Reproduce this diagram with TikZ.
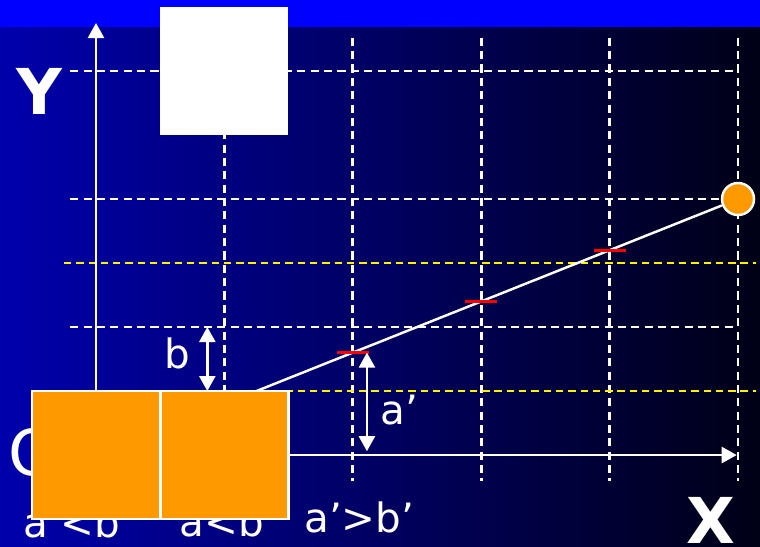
\documentclass[tikz,border=0pt]{standalone}
\usepackage{fontspec}
\setmainfont{DejaVu Sans}
\usetikzlibrary{arrows.meta, positioning}

\definecolor{bgleft}{RGB}{0,0,172}
\definecolor{bgright}{RGB}{0,0,22}
\definecolor{topbar}{RGB}{0,0,255}
\definecolor{lamp}{RGB}{255,153,0}

\begin{document}
\begin{tikzpicture}[x=1.284cm, y=1.28cm, >={Triangle[length=1.5mm,width=1.6mm]},
    grid/.style={white, line width=0.8pt, dash pattern=on 2.3pt off 1.5pt},
    ygrid/.style={yellow, line width=0.7pt, dash pattern=on 2.1pt off 1.4pt},
    axis/.style={->, white, line width=0.7pt},
    dim/.style={<->, white, line width=0.7pt},
    redmark/.style={red, line width=0.9pt},
    lbl/.style={white, font=\fontsize{11.5}{13}\selectfont, inner sep=0pt},
    big/.style={white, font=\fontsize{18}{20}\selectfont, inner sep=0pt},
    obox/.style={draw=white, fill=lamp, line width=0.7pt, minimum size=1.28cm, inner sep=0pt},
    wbox/.style={fill=white, minimum size=1.28cm, inner sep=0pt},
    src/.style={circle, draw=white, fill=lamp, line width=0.7pt, minimum size=0.32cm, inner sep=0pt}]
    % Background
    \useasboundingbox (-0.7477,-0.711) rectangle (5.1713,3.555);
    \shade[left color=bgleft, right color=bgright] (-0.7477,-0.711) rectangle (5.1713,3.555);
    \fill[topbar] (-0.7477,3.344) rectangle (5.1713,3.555);

    % Grid
    \foreach \x in {1,...,5}
        \draw[grid] (\x,3.26) -- (\x,-0.2);
    \foreach \y in {1,2,3}
        \draw[grid] (-0.2,\y) -- (5,\y);
    \foreach \y in {0.5,1.5}
        \draw[ygrid] (-0.25,\y) -- (5.14,\y);

    % Axes
    \coordinate (O) at (0,0);
    \coordinate (xend) at (4.99,0);
    \coordinate (yend) at (0,3.375);
    \draw[axis] (O) -- (xend);
    \draw[axis] (O) -- (yend);
    \node[big, font=\fontsize{18}{20}\selectfont\bfseries] (Y) at (-0.44,2.84) {Y};
    \node[big, font=\fontsize{18}{20}\selectfont\bfseries] (X) at (4.79,-0.51) {X};
    \node[big] (Olbl) at (-0.49,0.02) {O};

    % Source and ray
    \node[src] (S) at (5,2) {};
    \draw[white, line width=0.7pt] (O) -- (S);
    \foreach \i in {2,3,4}
        \draw[redmark] (\i-0.125,0.4*\i) -- ++(0.25,0);

    % Heights
    \coordinate (btop) at (0.867,1);
    \coordinate (bbot) at (0.867,0.5);
    \draw[dim] (btop) -- (bbot);
    \node[lbl] (b) at (0.63,0.79) {b};
    \coordinate (atop) at (2.11,0.8);
    \coordinate (abot) at (2.11,0.03);
    \draw[dim] (atop) -- (abot);
    \node[lbl, right=0.1 of atop, yshift=-0.57cm] (a) {a’};

    % Relations
    \node[lbl] (r1) at (-0.14,-0.53) {a’<b’};
    \node[lbl] (r2) at (0.98,-0.52) {a<b};
    \node[lbl] (r3) at (2.05,-0.49) {a’>b’};

    % Boxes
    \node[obox] (L) at (0,0) {};
    \node[obox] (R) at (1,0) {};
    \node[wbox] (card) at (1,3) {};
\end{tikzpicture}
\end{document}
